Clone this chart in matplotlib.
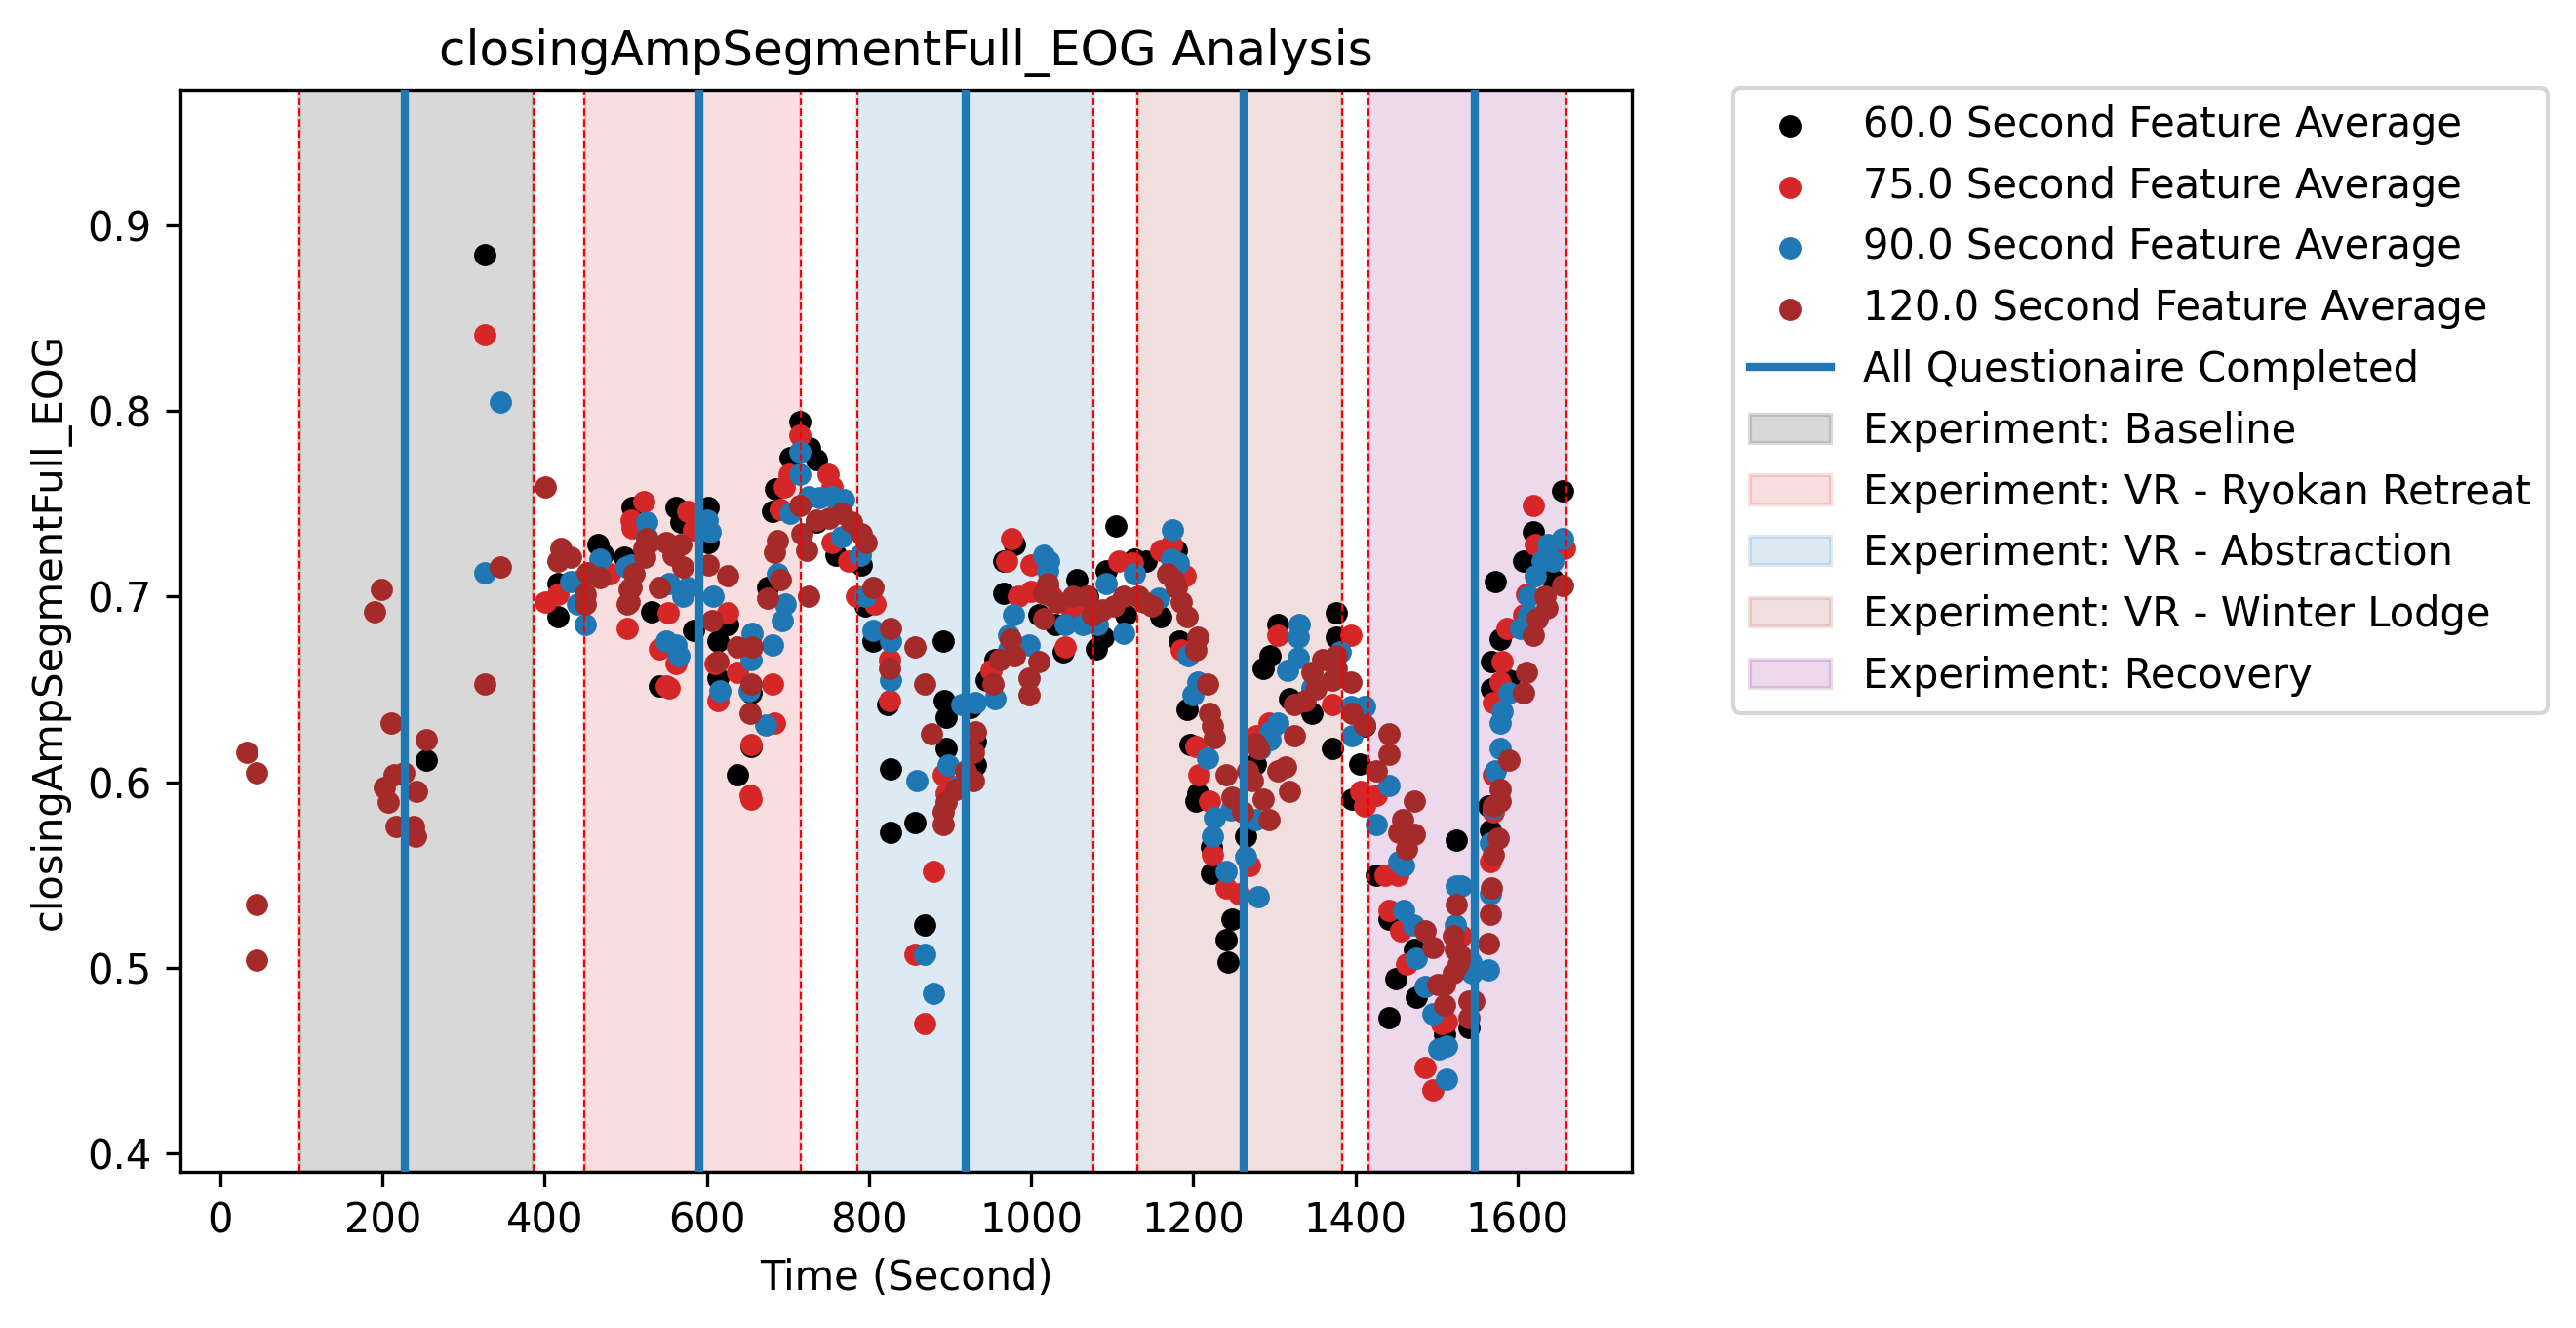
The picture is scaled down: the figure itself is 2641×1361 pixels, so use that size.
import matplotlib
matplotlib.use("Agg")
import matplotlib.pyplot as plt

feature = "closingAmpSegmentFull_EOG"

# 60 s rolling average
x_60 = [254, 326.5, 416, 416, 466, 472, 498, 508, 532, 542, 562, 568, 584, 602, 602,
        614, 614, 626, 638, 655, 655, 675, 681, 685, 703, 715, 727, 735, 735, 759,
        791, 795, 805, 823, 827, 827, 857, 869, 891, 893, 895, 895, 925, 931, 931,
        945, 955, 966, 966, 980, 1010, 1030, 1040, 1056, 1070, 1080, 1089, 1093,
        1105, 1117, 1127, 1142, 1160, 1179, 1183, 1192, 1196, 1203, 1205, 1222,
        1222, 1241, 1243, 1248, 1265, 1276, 1286, 1295, 1304, 1319, 1346, 1372,
        1377, 1377, 1396, 1405, 1411, 1426, 1441, 1441, 1450, 1473, 1475, 1510,
        1525, 1540, 1564, 1566, 1568, 1568, 1572, 1578, 1589, 1607, 1620, 1643, 1656]
y_60 = [0.612, 0.884, 0.707, 0.689, 0.728, 0.723, 0.721, 0.748, 0.692, 0.652, 0.748,
        0.740, 0.682, 0.748, 0.729, 0.676, 0.656, 0.685, 0.604, 0.648, 0.619, 0.705,
        0.746, 0.758, 0.775, 0.794, 0.780, 0.774, 0.740, 0.722, 0.717, 0.695, 0.676,
        0.642, 0.607, 0.573, 0.578, 0.523, 0.676, 0.644, 0.635, 0.618, 0.640, 0.622,
        0.609, 0.655, 0.666, 0.702, 0.719, 0.728, 0.690, 0.685, 0.670, 0.709, 0.700,
        0.672, 0.678, 0.714, 0.738, 0.690, 0.720, 0.719, 0.689, 0.725, 0.676, 0.639,
        0.620, 0.590, 0.594, 0.565, 0.551, 0.515, 0.503, 0.526, 0.571, 0.610, 0.661,
        0.668, 0.685, 0.645, 0.637, 0.618, 0.691, 0.678, 0.591, 0.610, 0.630, 0.550,
        0.526, 0.473, 0.494, 0.510, 0.484, 0.464, 0.569, 0.468, 0.587, 0.574, 0.650,
        0.665, 0.708, 0.677, 0.655, 0.719, 0.735, 0.709, 0.757]

# 75 s rolling average
x_75 = [326.5, 401, 416, 445, 480, 502, 506, 508, 522, 542, 550, 552, 554, 562, 576,
        584, 610, 614, 626, 638, 653, 655, 655, 681, 683, 691, 695, 701, 715, 749,
        755, 755, 775, 785, 807, 825, 825, 857, 869, 879, 891, 895, 951, 970, 976,
        984, 1000, 1000, 1020, 1025, 1042, 1050, 1060, 1068, 1108, 1125, 1160, 1173,
        1185, 1190, 1203, 1207, 1220, 1224, 1241, 1256, 1269, 1278, 1293, 1304, 1372,
        1394, 1407, 1411, 1426, 1437, 1441, 1452, 1456, 1463, 1486, 1495, 1506, 1512,
        1531, 1566, 1570, 1570, 1570, 1578, 1581, 1587, 1607, 1611, 1620, 1622, 1658]
y_75 = [0.841, 0.697, 0.701, 0.709, 0.712, 0.683, 0.741, 0.737, 0.751, 0.672, 0.652,
        0.691, 0.651, 0.664, 0.746, 0.736, 0.664, 0.644, 0.691, 0.659, 0.593, 0.620,
        0.591, 0.653, 0.632, 0.747, 0.759, 0.766, 0.787, 0.766, 0.759, 0.729, 0.719,
        0.700, 0.696, 0.666, 0.644, 0.507, 0.470, 0.552, 0.604, 0.594, 0.660, 0.719,
        0.731, 0.700, 0.703, 0.717, 0.705, 0.700, 0.673, 0.690, 0.697, 0.695, 0.719,
        0.718, 0.725, 0.728, 0.671, 0.711, 0.619, 0.604, 0.590, 0.561, 0.543, 0.540,
        0.555, 0.625, 0.632, 0.679, 0.642, 0.679, 0.595, 0.587, 0.593, 0.550, 0.531,
        0.550, 0.520, 0.502, 0.446, 0.434, 0.470, 0.471, 0.517, 0.557, 0.584, 0.604,
        0.643, 0.654, 0.665, 0.683, 0.690, 0.701, 0.749, 0.728, 0.726]

# 90 s rolling average
x_90 = [326.5, 345.8, 432, 440, 450, 468, 500, 506, 526, 526, 550, 554, 562, 566, 570,
        576, 600, 604, 608, 616, 652, 654, 656, 673, 681, 687, 693, 697, 703, 715,
        715, 725, 739, 755, 767, 769, 789, 795, 805, 827, 827, 859, 869, 879, 897,
        911, 915, 931, 955, 972, 972, 978, 998, 1016, 1020, 1022, 1042, 1064, 1082,
        1092, 1114, 1127, 1157, 1173, 1174, 1181, 1194, 1200, 1205, 1218, 1224, 1226,
        1241, 1246, 1265, 1276, 1280, 1282, 1295, 1295, 1304, 1316, 1329, 1329, 1331,
        1346, 1381, 1394, 1396, 1411, 1426, 1441, 1454, 1460, 1460, 1471, 1475, 1486,
        1495, 1503, 1512, 1512, 1523, 1525, 1531, 1542, 1544, 1564, 1566, 1566, 1570,
        1572, 1578, 1578, 1581, 1589, 1604, 1613, 1613, 1622, 1630, 1637, 1643, 1656]
y_90 = [0.713, 0.805, 0.708, 0.696, 0.685, 0.720, 0.716, 0.717, 0.740, 0.732, 0.676,
        0.707, 0.674, 0.668, 0.700, 0.705, 0.741, 0.735, 0.700, 0.649, 0.649, 0.666,
        0.680, 0.631, 0.674, 0.712, 0.687, 0.696, 0.745, 0.778, 0.766, 0.754, 0.753,
        0.754, 0.732, 0.752, 0.722, 0.700, 0.682, 0.676, 0.655, 0.601, 0.507, 0.486,
        0.609, 0.598, 0.642, 0.643, 0.645, 0.671, 0.679, 0.690, 0.674, 0.722, 0.714,
        0.719, 0.685, 0.685, 0.685, 0.707, 0.680, 0.712, 0.699, 0.720, 0.736, 0.718,
        0.668, 0.647, 0.654, 0.613, 0.571, 0.581, 0.552, 0.585, 0.560, 0.580, 0.538,
        0.618, 0.623, 0.627, 0.632, 0.660, 0.678, 0.667, 0.685, 0.651, 0.670, 0.641,
        0.625, 0.641, 0.577, 0.598, 0.557, 0.555, 0.531, 0.523, 0.505, 0.490, 0.475,
        0.456, 0.458, 0.440, 0.523, 0.544, 0.544, 0.503, 0.497, 0.499, 0.540, 0.567,
        0.586, 0.606, 0.618, 0.632, 0.638, 0.648, 0.683, 0.690, 0.700, 0.711, 0.719,
        0.728, 0.719, 0.731]

# 120 s rolling average
x_120 = [33, 45, 44, 44, 190.5, 199, 202, 207, 211, 214.6, 216.6, 226.6, 237.9, 240.3,
         241.5, 254, 326.5, 345.8, 401, 416, 420, 432, 450, 450, 452, 468, 502, 504,
         504, 506, 510, 522, 524, 526, 528, 542, 550, 558, 568, 570, 602, 606, 614,
         626, 638, 653, 655, 656, 675, 683, 687, 691, 715, 717, 723, 725, 735, 751,
         767, 779, 791, 797, 805, 825, 827, 857, 869, 877, 891, 891, 895, 907, 919,
         929, 929, 931, 953, 961, 974, 980, 998, 998, 1010, 1016, 1016, 1020, 1032,
         1052, 1068, 1076, 1088, 1102, 1114, 1132, 1140, 1149, 1168, 1175, 1179, 1185,
         1192, 1203, 1205, 1218, 1220, 1224, 1226, 1241, 1248, 1261, 1267, 1273, 1276,
         1280, 1286, 1293, 1304, 1314, 1319, 1325, 1325, 1338, 1346, 1351, 1359, 1372,
         1377, 1377, 1394, 1396, 1411, 1426, 1441, 1441, 1454, 1458, 1463, 1473, 1473,
         1486, 1495, 1501, 1510, 1510, 1521, 1521, 1523, 1525, 1527, 1531, 1540, 1540,
         1546, 1564, 1566, 1568, 1570, 1570, 1576, 1578, 1578, 1589, 1607, 1611, 1620,
         1624, 1634, 1636, 1656]
y_120 = [0.616, 0.605, 0.534, 0.504, 0.692, 0.704, 0.597, 0.589, 0.632, 0.604, 0.576,
         0.605, 0.576, 0.571, 0.595, 0.623, 0.653, 0.716, 0.759, 0.719, 0.726, 0.721,
         0.701, 0.696, 0.713, 0.710, 0.696, 0.704, 0.697, 0.705, 0.712, 0.726, 0.721,
         0.731, 0.729, 0.705, 0.729, 0.722, 0.728, 0.716, 0.717, 0.687, 0.665, 0.711,
         0.673, 0.637, 0.653, 0.673, 0.699, 0.724, 0.730, 0.709, 0.749, 0.734, 0.725,
         0.700, 0.741, 0.742, 0.745, 0.740, 0.734, 0.729, 0.705, 0.661, 0.683, 0.673,
         0.653, 0.626, 0.584, 0.577, 0.589, 0.596, 0.606, 0.616, 0.601, 0.627, 0.653,
         0.666, 0.677, 0.668, 0.647, 0.656, 0.665, 0.702, 0.688, 0.707, 0.697, 0.700,
         0.700, 0.690, 0.693, 0.695, 0.700, 0.700, 0.697, 0.695, 0.712, 0.709, 0.705,
         0.697, 0.689, 0.671, 0.678, 0.653, 0.637, 0.630, 0.624, 0.604, 0.592, 0.584,
         0.606, 0.601, 0.621, 0.618, 0.591, 0.580, 0.606, 0.608, 0.595, 0.625, 0.642,
         0.644, 0.659, 0.650, 0.666, 0.655, 0.668, 0.661, 0.654, 0.637, 0.631, 0.606,
         0.626, 0.615, 0.573, 0.580, 0.564, 0.590, 0.572, 0.520, 0.511, 0.491, 0.480,
         0.491, 0.497, 0.517, 0.510, 0.534, 0.502, 0.506, 0.482, 0.473, 0.482, 0.513,
         0.529, 0.543, 0.561, 0.587, 0.570, 0.596, 0.590, 0.612, 0.648, 0.659, 0.679,
         0.688, 0.700, 0.694, 0.706]

# experiment segments (start, end) and questionnaire completion times
seg_names = ["Baseline", "VR - Ryokan Retreat", "VR - Abstraction",
             "VR - Winter Lodge", "Recovery"]
seg_start = [98, 449, 786, 1131, 1416]
seg_end = [386, 716, 1077, 1384, 1660]
quest_done = [227, 591, 919, 1262, 1547]
seg_colors = ["gray", "tab:red", "tab:blue", "brown", "purple"]
seg_alpha = [0.3, 0.15, 0.15, 0.15, 0.15]

fig = plt.figure(figsize=(2641 / 300, 1361 / 300), dpi=300)
ax = fig.add_axes([185 / 2641, 160 / 1361, 1488 / 2641, 1109 / 1361])

series = [(x_60, y_60, "black", "60.0"), (x_75, y_75, "tab:red", "75.0"),
          (x_90, y_90, "tab:blue", "90.0"), (x_120, y_120, "brown", "120.0")]
for xs, ys, c, w in series:
    ax.scatter(xs, ys, s=20, color=c, zorder=2, label=f"{w} Second Feature Average")

for i, t in enumerate(quest_done):
    ax.axvline(t, color="tab:blue", linewidth=2, zorder=3,
               label="All Questionaire Completed" if i == 0 else None)

for name, a, b, c, al in zip(seg_names, seg_start, seg_end, seg_colors, seg_alpha):
    ax.axvspan(a, b, color=c, alpha=al, zorder=0, label=f"Experiment: {name}")
    ax.axvline(a, color="red", linestyle="--", linewidth=0.5, zorder=2.5)
    ax.axvline(b, color="red", linestyle="--", linewidth=0.5, zorder=2.5)

ax.set_xlim(-49.3, 1741)
ax.set_ylim(0.390, 0.973)
ax.set_title(f"{feature} Analysis")
ax.set_xlabel("Time (Second)")
ax.set_ylabel(feature)

ax.legend(loc="upper left", bbox_to_anchor=(1777 / 2641, 1271 / 1361),
          bbox_transform=fig.transFigure, borderaxespad=0)

fig.savefig("out.png", dpi=300)
